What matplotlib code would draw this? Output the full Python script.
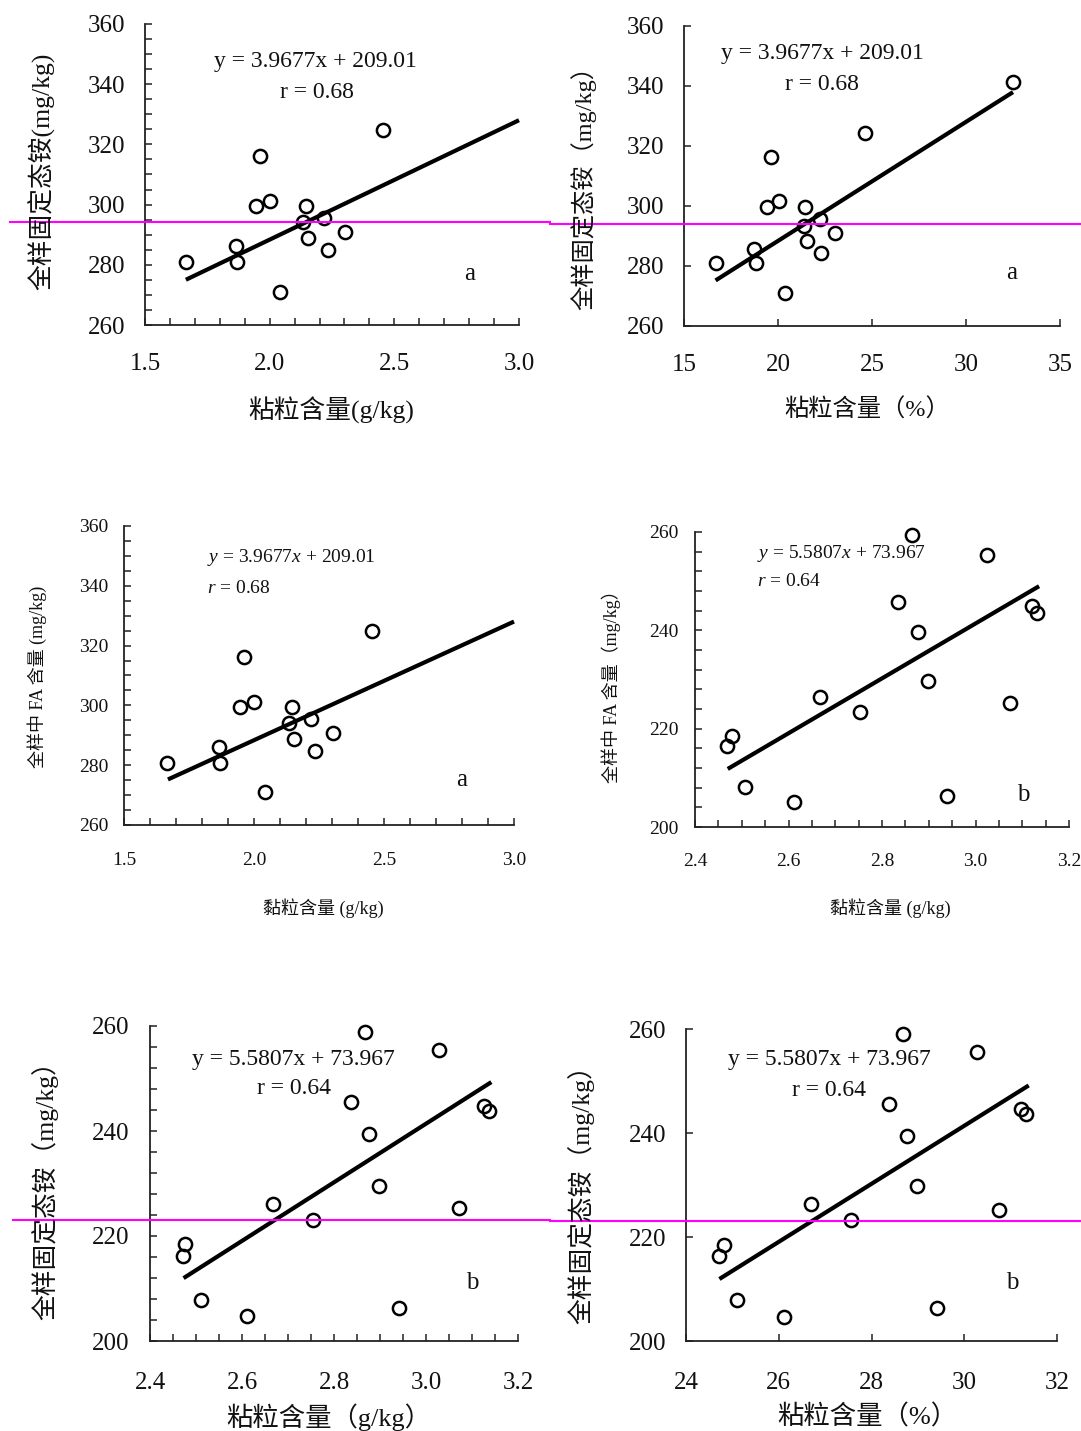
import matplotlib
matplotlib.use("Agg")
import matplotlib.pyplot as plt
from matplotlib.ticker import MultipleLocator, FormatStrFormatter

plt.rcParams['font.family'] = ['Liberation Serif', 'Noto Sans CJK SC', 'DejaVu Sans']
plt.rcParams['mathtext.fontset'] = 'custom'
plt.rcParams['mathtext.rm'] = 'Liberation Serif'
plt.rcParams['mathtext.it'] = 'Liberation Serif:italic'

# ---------------- data ----------------
# group a: 粘粒含量 (g/kg) panels
clay_a_gkg = [1.664, 1.865, 1.869, 1.945, 1.961, 2.001, 2.042, 2.146, 2.134, 2.154, 2.218, 2.234, 2.302, 2.455]
nh4_a_gkg = [280.9, 286.2, 280.9, 299.5, 316.1, 301.2, 271.0, 299.5, 294.2, 288.9, 295.5, 284.9, 290.9, 324.8]
# group a: 粘粒含量 (%) panel
clay_a_pct = [16.68, 18.70, 18.83, 19.43, 19.65, 20.07, 20.38, 21.45, 21.37, 21.56, 22.22, 22.31, 23.04, 24.63, 32.51]
nh4_a_pct = [281.1, 285.7, 281.1, 299.6, 316.2, 301.6, 271.1, 299.6, 293.5, 288.3, 295.7, 284.3, 291.0, 324.2, 341.5]
# group b: 黏粒含量 (g/kg), FA panel
clay_b_fa = [2.469, 2.480, 2.508, 2.612, 2.668, 2.753, 2.834, 2.864, 2.876, 2.898, 2.940, 3.025, 3.073, 3.121, 3.132]
fa_b = [216.4, 218.6, 208.1, 205.1, 226.4, 223.4, 245.8, 259.3, 239.6, 229.6, 206.4, 255.4, 225.2, 244.9, 243.5]
# group b: 粘粒含量 (g/kg)
clay_b_gkg = [2.472, 2.476, 2.510, 2.610, 2.667, 2.754, 2.837, 2.868, 2.876, 2.898, 2.941, 3.028, 3.072, 3.125, 3.136]
nh4_b_gkg = [216.1, 218.4, 207.9, 204.8, 226.1, 223.0, 245.6, 258.9, 239.4, 229.5, 206.3, 255.5, 225.4, 244.8, 243.8]
# group b: 粘粒含量 (%)
clay_b_pct = [24.71, 24.81, 25.09, 26.12, 26.70, 27.56, 28.38, 28.67, 28.77, 28.98, 29.42, 30.27, 30.74, 31.22, 31.34]
nh4_b_pct = [216.3, 218.5, 207.8, 204.7, 226.3, 223.2, 245.6, 259.0, 239.4, 229.8, 206.3, 255.6, 225.1, 244.7, 243.6]

# regression lines
slope_a, intercept_a = 3.9677, 209.01
slope_b, intercept_b = 5.5807, 73.967
unit_scale = [10.0, 1.0, 10.0, 10.0, 10.0, 1.0]   # g/kg panels are drawn with slope*10
fit_x = [[1.664, 3.0], [16.68, 32.5], [1.669, 3.0], [2.470, 3.136], [2.473, 3.142], [24.72, 31.39]]

# magenta reference lines (data values on the panels where they are drawn)
ref_levels = {0: 294.2, 1: 294.0, 4: 223.0, 5: 223.1}

eq_a = "y = 3.9677x + 209.01"
r_a = "r = 0.68"
eq_b = "y = 5.5807x + 73.967"
r_b = "r = 0.64"
eq_a_it = "$y$ = 3.9677$x$ + 209.01"
r_a_it = "$r$ = 0.68"
eq_b_it = "$y$ = 5.5807$x$ + 73.967"
r_b_it = "$r$ = 0.64"

ylabels = ["全样固定态铵(mg/kg)", "全样固定态铵（mg/kg）", "全样中 FA 含量 (mg/kg)",
           "全样中 FA 含量（mg/kg）", "全样固定态铵（mg/kg）", "全样固定态铵（mg/kg）"]
xlabels = ["粘粒含量(g/kg)", "粘粒含量（%）", "黏粒含量 (g/kg)", "黏粒含量 (g/kg)",
           "粘粒含量（g/kg）", "粘粒含量（%）"]
letters = ["a", "a", "a", "b", "b", "b"]

# ---------------- layout ----------------
W, H = 1081, 1431
fig = plt.figure(figsize=(W / 100, H / 100), dpi=100)

def fx(x):
    return x / W

def fy(y):
    return 1 - y / H

panels = [
    dict(box=(145, 519, 24, 325), xlim=(1.5, 3.0), ylim=(260, 360), xmaj=0.5, xmin=0.1, ymaj=20, ymin=5,
         xfmt='%.1f', fs=18, xpad=20.5, ypad=14, x=clay_a_gkg, y=nh4_a_gkg, slope=slope_a, icpt=intercept_a),
    dict(box=(684, 1060, 26, 326), xlim=(15, 35), ylim=(260, 360), xmaj=5, xmin=None, ymaj=20, ymin=None,
         xfmt='%d', fs=18, xpad=20.5, ypad=14, x=clay_a_pct, y=nh4_a_pct, slope=slope_a, icpt=intercept_a),
    dict(box=(124, 514, 526, 825), xlim=(1.5, 3.0), ylim=(260, 360), xmaj=0.5, xmin=0.1, ymaj=20, ymin=5,
         xfmt='%.1f', fs=14, xpad=19.5, ypad=11.5, x=clay_a_gkg, y=nh4_a_gkg, slope=slope_a, icpt=intercept_a),
    dict(box=(695, 1069, 532, 827), xlim=(2.4, 3.2), ylim=(200, 260), xmaj=0.2, xmin=0.05, ymaj=20, ymin=4,
         xfmt='%.1f', fs=14, xpad=18.5, ypad=12, x=clay_b_fa, y=fa_b, slope=slope_b, icpt=intercept_b),
    dict(box=(150, 518, 1026, 1341), xlim=(2.4, 3.2), ylim=(200, 260), xmaj=0.2, xmin=0.05, ymaj=20, ymin=4,
         xfmt='%.1f', fs=18, xpad=22, ypad=15, x=clay_b_gkg, y=nh4_b_gkg, slope=slope_b, icpt=intercept_b),
    dict(box=(686, 1057, 1029, 1341), xlim=(24, 32), ylim=(200, 260), xmaj=2, xmin=None, ymaj=20, ymin=None,
         xfmt='%d', fs=18, xpad=22, ypad=14, x=clay_b_pct, y=nh4_b_pct, slope=slope_b, icpt=intercept_b),
]

spine_color = '#222222'
for i, p in enumerate(panels):
    l, r, t, b = p['box']
    ax = fig.add_axes([fx(l), fy(b), (r - l) / W, (b - t) / H])
    ax.set_xlim(*p['xlim'])
    ax.set_ylim(*p['ylim'])
    for s in ['top', 'right']:
        ax.spines[s].set_visible(False)
    for s in ['left', 'bottom']:
        ax.spines[s].set_color(spine_color)
        ax.spines[s].set_linewidth(1.3)
    ax.xaxis.set_major_locator(MultipleLocator(p['xmaj']))
    ax.yaxis.set_major_locator(MultipleLocator(p['ymaj']))
    ax.xaxis.set_major_formatter(FormatStrFormatter(p['xfmt']))
    ax.yaxis.set_major_formatter(FormatStrFormatter('%d'))
    if p['xmin']:
        ax.xaxis.set_minor_locator(MultipleLocator(p['xmin']))
    if p['ymin']:
        ax.yaxis.set_minor_locator(MultipleLocator(p['ymin']))
    ax.tick_params(axis='both', which='both', direction='in', length=5, width=1.1, colors=spine_color,
                   labelsize=p['fs'], labelcolor='#111111')
    ax.tick_params(axis='x', which='both', pad=p['xpad'])
    ax.tick_params(axis='y', which='both', pad=p['ypad'])
    ax.patch.set_alpha(0)

    ax.plot(p['x'], p['y'], linestyle='none', marker='o', markersize=9.5, markerfacecolor='none',
            markeredgecolor='black', markeredgewidth=1.8, zorder=3, clip_on=False)
    s = p['slope'] * unit_scale[i]
    x0, x1 = fit_x[i]
    ax.plot([x0, x1], [s * x0 + p['icpt'], s * x1 + p['icpt']], color='black', linewidth=3.0,
            solid_capstyle='butt', zorder=2, clip_on=False)

    if i in ref_levels:
        # magenta line spanning across the figure
        if i == 0:
            xs = (10, 550)
        elif i == 1:
            xs = (550, 1081)
        elif i == 4:
            xs = (13, 550)
        else:
            xs = (550, 1081)
        ax.axhline(ref_levels[i], xmin=(xs[0] - l) / (r - l), xmax=(xs[1] - l) / (r - l),
                   color='#ff00ff', linewidth=1.5, clip_on=False, zorder=10)

# ---------------- texts ----------------
def ftext(x, y, s, size, ha='center', va='center', rot=0, **kw):
    fig.text(fx(x), fy(y), s, fontsize=size, ha=ha, va=va, rotation=rot, color='#111111', **kw)

# equations
ftext(315, 62, eq_a, 17)
ftext(317, 92, r_a, 17)
ftext(822, 54, eq_a, 17)
ftext(822, 84, r_a, 17)
ftext(207, 558, eq_a_it, 14, ha='left')
ftext(207, 588, r_a_it, 14, ha='left')
ftext(757, 553, eq_b_it, 14, ha='left')
ftext(757, 582, r_b_it, 14, ha='left')
ftext(293, 1060, eq_b, 17)
ftext(294, 1089, r_b, 17)
ftext(829, 1060, eq_b, 17)
ftext(829, 1090, r_b, 17)

# panel letters
letter_pos = [(470, 274), (1012, 273), (462, 780), (1023, 795), (472, 1283), (1012, 1283)]
for (x, y), s in zip(letter_pos, letters):
    ftext(x, y, s, 18)

# axis labels
ylab_pos = [(42, 171, 18.5), (583, 182, 17.5), (37, 677, 13), (611, 682, 13), (45, 1184, 18.5), (581, 1188, 18.5)]
xlab_pos = [(331, 410, 18.5), (867, 410, 17.5), (323, 908, 13), (890, 908, 13), (329, 1417, 19), (867, 1417, 19)]
for (x, y, fs), s in zip(ylab_pos, ylabels):
    ftext(x, y, s, fs, rot=90)
for (x, y, fs), s in zip(xlab_pos, xlabels):
    ftext(x, y, s, fs)

fig.savefig("out.png", dpi=100, facecolor='white')
